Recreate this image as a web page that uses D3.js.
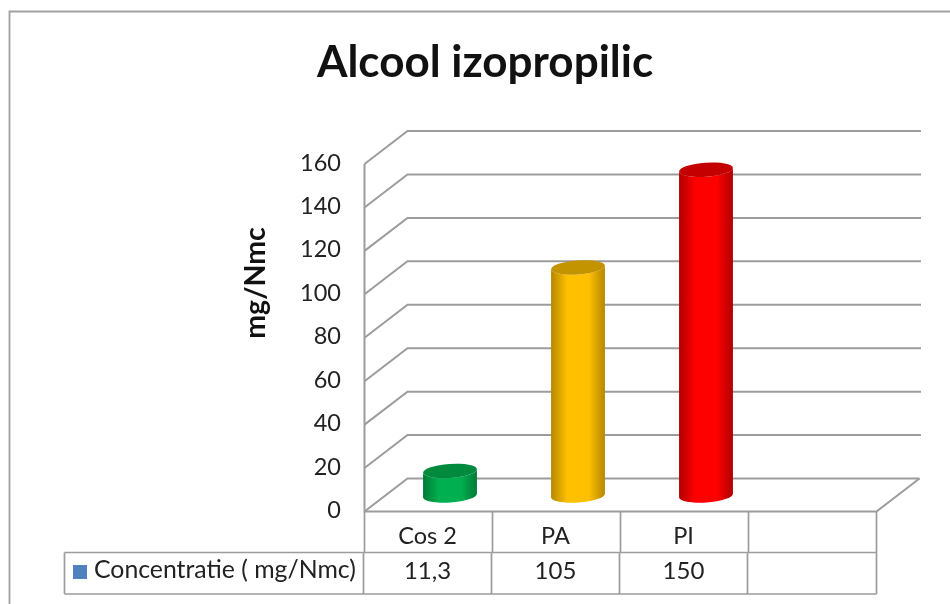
<!DOCTYPE html>
<html><head><meta charset="utf-8">
<script src="https://cdn.jsdelivr.net/npm/d3@7"></script>
<style>
html,body{margin:0;padding:0;background:#fff;overflow:hidden}
svg{display:block;filter:blur(0.45px)}
text{font-family:Lato,"Open Sans",sans-serif;fill:#222}
</style></head><body><svg id="c" width="950" height="604"></svg>
<script>
const categories = ["Cos 2","PA","PI",""];
const tableValues = ["11,3","105","150",""];
const values = [11.3,105,150];
const colors = ["#00b050","#ffc000","#ff0000"];
const darkColors = ["#008a3e","#c49400","#c40000"];
const edgeColors = ["#007a37","#b48800","#b00000"];
const yTicks = [0,20,40,60,80,100,120,140,160];
const titleText = "Alcool izopropilic";
const yTitle = "mg/Nmc";
const seriesName = "Concentratie ( mg/Nmc)";

const grid = "#9c9c9c";
const svg = d3.select("#c");
const x = d3.scaleBand().domain(categories).range([364.5,876.5]);
const y = d3.scaleLinear().domain([0,160]).range([511.5,164]);
const depthX = 43, depthY = -33;

// outer chart frame
svg.append("path").attr("d","M9.5,604V11.5H950").attr("fill","none").attr("stroke","#a0a0a0").attr("stroke-width",1.8);

svg.append("text").attr("x",485).attr("y",77).attr("text-anchor","middle")
  .attr("font-size",44).attr("font-weight",700).style("fill","#111").text(titleText);

// gridlines: wall and side wall
const g = svg.append("g").attr("fill","none").attr("stroke",grid).attr("stroke-width",2);
yTicks.forEach(t=>{
  g.append("path").attr("d",`M${x.range()[0]},${y(t)}l${depthX},${depthY}H${t===0?x.range()[1]+depthX:921}`);
});
g.append("path").attr("d",`M${x.range()[0]},${y(160)}V${y(0)}H${x.range()[1]}l${depthX},${depthY}`);

// y axis labels
const axis = d3.axisLeft(y).tickValues(yTicks).tickSize(0).tickPadding(0);
const ag = svg.append("g").attr("transform","translate(341,-1.5)").call(axis);
ag.select(".domain").remove();
ag.selectAll("text").attr("font-size",23.5).attr("font-family","Lato");

svg.append("text").attr("transform","translate(265,283) rotate(-90)").attr("text-anchor","middle")
  .attr("font-size",28.5).attr("font-weight",700).style("fill","#111").text(yTitle);

// cylinders
const defs = svg.append("defs");
values.forEach((v,i)=>{
  const gr = defs.append("linearGradient").attr("id","g"+i);
  [[0,edgeColors[i]],[.3,colors[i]],[.7,colors[i]],[1,edgeColors[i]]].forEach(s=>
    gr.append("stop").attr("offset",s[0]).attr("stop-color",s[1]));
});
const rx = 27, ry = 7, rot = -4;
const sin = Math.sin(rot*Math.PI/180), cos = Math.cos(rot*Math.PI/180);
const baseY = v => y(v)+depthY/2+0.5;
values.forEach((v,i)=>{
  const cx = x(categories[i])+x.bandwidth()/2+depthX/2;
  const yb = baseY(0), yt = baseY(v);
  const dx = rx*cos, dy = rx*sin;
  const b = svg.append("g");
  b.append("path").attr("fill",`url(#g${i})`)
    .attr("d",`M${cx-dx},${yt-dy}L${cx-dx},${yb-dy}A${rx},${ry} ${rot} 0 0 ${cx+dx},${yb+dy}L${cx+dx},${yt+dy}A${rx},${ry} ${rot} 0 1 ${cx-dx},${yt-dy}Z`);
  b.append("ellipse").attr("cx",cx).attr("cy",yt).attr("rx",rx).attr("ry",ry)
    .attr("transform",`rotate(${rot} ${cx} ${yt})`).attr("fill",darkColors[i]);
});

// data table
const row1 = 552.5, row2 = 594;
const tg = svg.append("g").attr("fill","none").attr("stroke",grid).attr("stroke-width",1.7);
tg.append("path").attr("d",`M64.5,${row1}H${x.range()[1]}M64.5,${row2}H${x.range()[1]}M64.5,${row1}V${row2}M${x.range()[1]},${y(0)}V${row2}`);
categories.forEach(c=>{
  const l = x(c);
  tg.append("path").attr("d",`M${l},${y(0)}V${row1}`);
  tg.append("path").attr("d",`M${l-1},${row1}V${row2}`);
});
categories.forEach((c,i)=>{
  const cx = x(c)+x.bandwidth()/2-1;
  svg.append("text").attr("x",cx).attr("y",544).attr("text-anchor","middle").attr("font-size",23.5).text(c);
  svg.append("text").attr("x",cx).attr("y",579).attr("text-anchor","middle").attr("font-size",24).text(tableValues[i]);
});
svg.append("rect").attr("x",73).attr("y",565).attr("width",14).attr("height",14).attr("fill","#4f81bd");
svg.append("text").attr("x",94).attr("y",578).attr("font-size",24.8).text(seriesName);
</script></body></html>
